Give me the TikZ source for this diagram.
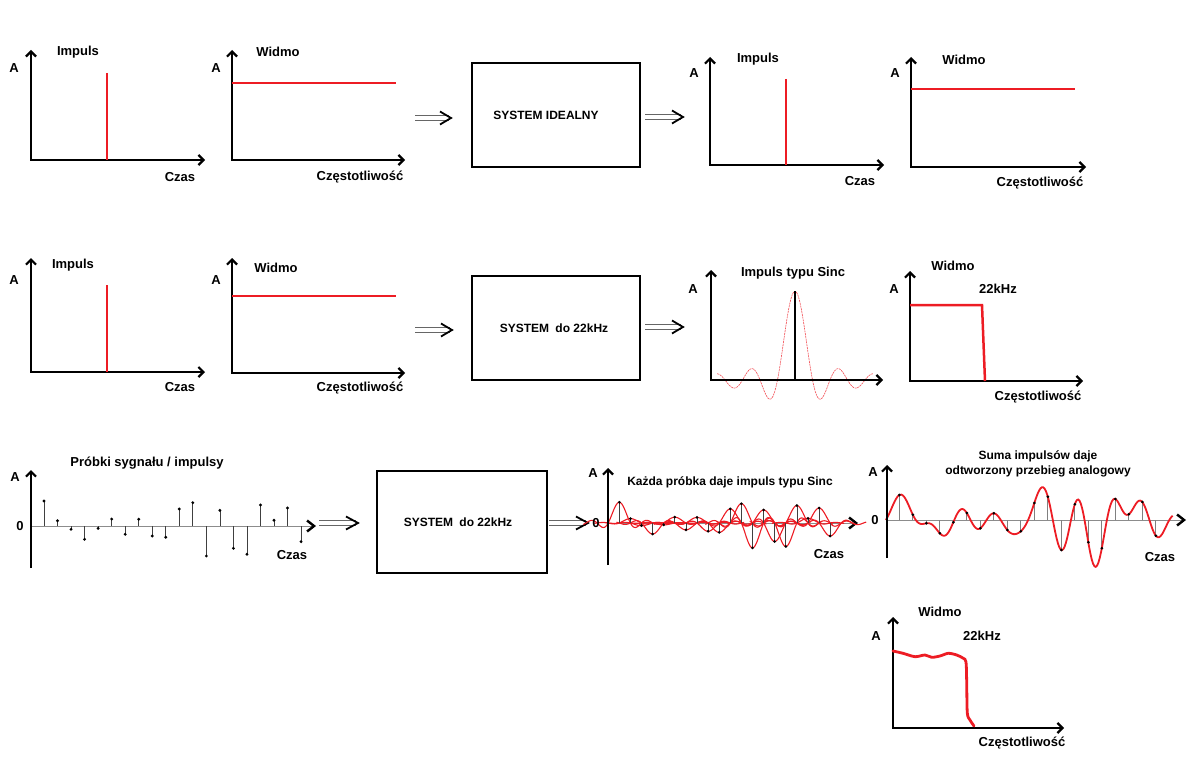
\documentclass[tikz,border=0pt]{standalone}
\usepackage{fontspec}
\setmainfont{Liberation Sans}
\usetikzlibrary{arrows.meta}
\definecolor{paintred}{RGB}{237,28,36}
\tikzset{
  lbl/.style={font=\fontsize{13}{15}\selectfont\bfseries, inner sep=0pt},
  slbl/.style={font=\fontsize{12}{15}\selectfont\bfseries, inner sep=0pt, align=center},
  axis/.style={line width=2.8pt, line join=miter, {Straight Barb[length=5pt,width=10pt,line width=2.2pt]}-{Straight Barb[length=5pt,width=10pt,line width=2.2pt]}},
  yaxis/.style={line width=2.8pt, -{Straight Barb[length=5pt,width=10pt,line width=2.2pt]}},
  taxis/.style={draw=black!45, line width=1pt, -{Straight Barb[length=7pt,width=11pt,line width=2.4pt,color=black]}},
  sig/.style={draw=paintred, line width=2.5pt},
  sysbox/.style={draw, line width=2.2pt, minimum width=168pt, minimum height=104pt},
  dblline/.style={draw=black!60, line width=0.9pt, double=white, double distance=3.5pt, shorten >=2pt},
  dblhead/.style={draw=black, line width=1.8pt},
  stem/.style={draw=black!75, line width=0.7pt},
  gstem/.style={draw=black!50, line width=0.9pt},
  sincln/.style={draw=paintred, line width=1.1pt},
  sincdash/.style={draw=paintred!80, line width=0.6pt, dash pattern=on 2pt off 0.8pt},
}
\begin{document}
\begin{tikzpicture}[x=1pt,y=-1pt,declare function={snc(\t)=sin(180*\t)/(pi*\t);}]
\useasboundingbox (0,0) rectangle (1195,768);

% row 1
\coordinate (o11) at (31,160); \coordinate (y11) at (31,50); \coordinate (x11) at (205,160);
\draw[axis] (y11) -- (o11) -- (x11);
\draw[sig] (107,73) -- (107,160);
\node[lbl] (a11) at (14,68) {A};
\node[lbl] (t11) at (78,52) {Impuls};
\node[lbl] (c11) at (180,177) {Czas};

\coordinate (o12) at (232,160); \coordinate (y12) at (232,50); \coordinate (x12) at (405,160);
\draw[axis] (y12) -- (o12) -- (x12);
\draw[sig] (232,83) -- (396,83);
\node[lbl] (a12) at (216,68) {A};
\node[lbl] (t12) at (278,52) {Widmo};
\node[lbl] (c12) at (360,177) {Częstotliwość};

\coordinate (ar1a) at (415,118); \coordinate (ar1b) at (451,118);
\draw[dblline] (ar1a) -- (ar1b);
\draw[dblhead] (ar1b) ++(-11,-6.5) -- (ar1b) -- ++(-11,6.5);
\node[sysbox] (sys1) at (556,115) {};
\node[slbl] (sys1t) at (546,115) {SYSTEM IDEALNY};
\coordinate (ar2a) at (645,117); \coordinate (ar2b) at (683,117);
\draw[dblline] (ar2a) -- (ar2b);
\draw[dblhead] (ar2b) ++(-11,-6.5) -- (ar2b) -- ++(-11,6.5);

\coordinate (o13) at (710,165); \coordinate (y13) at (710,57); \coordinate (x13) at (884,165);
\draw[axis] (y13) -- (o13) -- (x13);
\draw[sig] (786,79) -- (786,165);
\node[lbl] (a13) at (694,73) {A};
\node[lbl] (t13) at (758,59) {Impuls};
\node[lbl] (c13) at (860,181) {Czas};

\coordinate (o14) at (911,167); \coordinate (y14) at (911,57); \coordinate (x14) at (1086,167);
\draw[axis] (y14) -- (o14) -- (x14);
\draw[sig] (911,89) -- (1075,89);
\node[lbl] (a14) at (895,73) {A};
\node[lbl] (t14) at (964,60) {Widmo};
\node[lbl] (c14) at (1040,183) {Częstotliwość};

% row 2
\coordinate (o21) at (31,372); \coordinate (y21) at (31,258); \coordinate (x21) at (205,372);
\draw[axis] (y21) -- (o21) -- (x21);
\draw[sig] (107,285) -- (107,372);
\node[lbl] (a21) at (14,280) {A};
\node[lbl] (t21) at (73,265) {Impuls};
\node[lbl] (c21) at (180,387) {Czas};

\coordinate (o22) at (232,373); \coordinate (y22) at (232,258); \coordinate (x22) at (405,373);
\draw[axis] (y22) -- (o22) -- (x22);
\draw[sig] (232,296) -- (396,296);
\node[lbl] (a22) at (216,280) {A};
\node[lbl] (t22) at (276,268) {Widmo};
\node[lbl] (c22) at (360,388) {Częstotliwość};

\coordinate (ar3a) at (415,330); \coordinate (ar3b) at (452,330);
\draw[dblline] (ar3a) -- (ar3b);
\draw[dblhead] (ar3b) ++(-11,-6.5) -- (ar3b) -- ++(-11,6.5);
\node[sysbox] (sys2) at (556,328) {};
\node[slbl] (sys2t) at (554,328) {SYSTEM\hspace{3pt} do 22kHz};
\coordinate (ar4a) at (645,327); \coordinate (ar4b) at (683,327);
\draw[dblline] (ar4a) -- (ar4b);
\draw[dblhead] (ar4b) ++(-11,-6.5) -- (ar4b) -- ++(-11,6.5);

\coordinate (o23) at (711,380); \coordinate (y23) at (711,270); \coordinate (x23) at (883,380);
\draw[sincdash] plot[domain=-4.45:4.45, samples=90] ({795+17.5*\x},{380-89*snc(\x)});
\draw[axis] (y23) -- (o23) -- (x23);
\draw[line width=2.2pt] (795,291) -- (795,380);
\node[lbl] (a23) at (693,289) {A};
\node[lbl] (t23) at (793,273) {Impuls typu Sinc};

\coordinate (o24) at (910,381); \coordinate (y24) at (910,271); \coordinate (x24) at (1083,381);
\draw[axis] (y24) -- (o24) -- (x24);
\draw[sig] (910,305) -- (982,305) -- (985,381);
\node[lbl] (a24) at (894,289) {A};
\node[lbl] (t24) at (953,266) {Widmo};
\node[lbl] (k24) at (998,289) {22kHz};
\node[lbl] (c24) at (1038,397) {Częstotliwość};

% row 3
\coordinate (o31) at (31,526); \coordinate (y31) at (31,470); \coordinate (b31) at (31,568); \coordinate (x31) at (316,526);
\draw[taxis] (o31) -- (x31);
\draw[yaxis] (b31) -- (y31);
\foreach \v [count=\k] in {25,5.3,-3.3,-13.3,-2.3,7,-8.3,6.7,-10,-11.3,17,23.3,-30,15.7,-22.3,-28.3,21,5.7,18,-15.7}{
  \draw[stem] ({44+13.53*(\k-1)},526) -- ({44+13.53*(\k-1)},{526-(\v)});
  \fill ({44+13.53*(\k-1)},{526-(\v)}) circle (1.6);
}
\node[lbl] (a31) at (15,477) {A};
\node[lbl] (z31) at (20,526) {0};
\node[lbl] (t31) at (147,463) {Próbki sygnału / impulsy};
\node[lbl] (c31) at (292,555) {Czas};

\coordinate (ar5a) at (319,523); \coordinate (ar5b) at (358,523);
\draw[dblline] (ar5a) -- (ar5b);
\draw[dblhead] (ar5b) ++(-12,-6.5) -- (ar5b) -- ++(-12,6.5);
\node[sysbox, minimum width=170pt, minimum height=102pt] (sys3) at (462,522) {};
\node[slbl] (sys3t) at (458,522) {SYSTEM\hspace{3pt} do 22kHz};
\coordinate (ar6a) at (549,523); \coordinate (ar6b) at (588,523);
\draw[dblline] (ar6a) -- (ar6b);
\draw[dblhead] (ar6b) ++(-12,-6.5) -- (ar6b) -- ++(-12,6.5);

\coordinate (o32) at (608,523); \coordinate (y32) at (608,468); \coordinate (b32) at (608,565); \coordinate (x32) at (858,523);
\draw[taxis] (o32) -- (x32);
\foreach \v [count=\k] in {25,5.3,-3.3,-13.3,-2.3,7,-8.3,6.7,-10,-11.3,17,23.3,-30,15.7,-22.3,-28.3,21,5.7,18,-15.7}{
  \draw[sincln] plot[domain=-3.25:3.25, samples=66] ({619.3+11.1*(\k-1)+11.1*\x},{523-0.83*(\v)*snc(\x)});
}
\foreach \v [count=\k] in {25,5.3,-3.3,-13.3,-2.3,7,-8.3,6.7,-10,-11.3,17,23.3,-30,15.7,-22.3,-28.3,21,5.7,18,-15.7}{
  \draw[stem] ({619.3+11.1*(\k-1)},523) -- ({619.3+11.1*(\k-1)},{523-0.83*(\v)});
  \fill ({619.3+11.1*(\k-1)},{523-0.83*(\v)}) circle (1.5);
}
\draw[yaxis] (b32) -- (y32);
\node[lbl] (a32) at (593,473) {A};
\node[lbl] (z32) at (596,523) {0};
\node[slbl] (t32) at (730,482) {Każda próbka daje impuls typu Sinc};
\node[lbl] (c32) at (829,554) {Czas};

\coordinate (o33) at (886,520); \coordinate (y33) at (887,465); \coordinate (b33) at (887,558); \coordinate (x33) at (1186,520);
\draw[taxis] (o33) -- (x33);
\foreach \v [count=\k] in {25,5.3,-3.3,-13.3,-2.3,7,-8.3,6.7,-10,-11.3,17,23.3,-30,15.7,-22.3,-28.3,21,5.7,18,-15.7}{
  \draw[gstem] ({899.3+13.5*(\k-1)},520) -- ({899.3+13.5*(\k-1)},{520-(\v)});
}
\draw[sig, line width=1.8pt] (o33) -- plot[domain=0.05:21.25, samples=213] ({885.8+13.5*\x},{520-(25*snc(\x-1)+5.3*snc(\x-2)-3.3*snc(\x-3)-13.3*snc(\x-4)-2.3*snc(\x-5)+7*snc(\x-6)-8.3*snc(\x-7)+6.7*snc(\x-8)-10*snc(\x-9)-11.3*snc(\x-10)+17*snc(\x-11)+23.3*snc(\x-12)-30*snc(\x-13)+15.7*snc(\x-14)-22.3*snc(\x-15)-28.3*snc(\x-16)+21*snc(\x-17)+5.7*snc(\x-18)+18*snc(\x-19)-15.7*snc(\x-20))});
\foreach \v [count=\k] in {25,5.3,-3.3,-13.3,-2.3,7,-8.3,6.7,-10,-11.3,17,23.3,-30,15.7,-22.3,-28.3,21,5.7,18,-15.7}{
  \fill ({899.3+13.5*(\k-1)},{520-(\v)}) circle (1.5);
}
\draw[yaxis] (b33) -- (y33);
\node[lbl] (a33) at (873,472) {A};
\node[lbl] (z33) at (875,520) {0};
\node[slbl] (t33) at (1038,464) {Suma impulsów daje\\odtworzony przebieg analogowy};
\node[lbl] (c33) at (1160,557) {Czas};

% row 4
\coordinate (o43) at (893,728); \coordinate (y43) at (893,617); \coordinate (x43) at (1064,728);
\draw[axis] (y43) -- (o43) -- (x43);
\draw[sig, line width=2.8pt, line cap=round] plot[smooth, tension=0.5] coordinates {(893,651) (903,653.3) (915,656.7) (925,655) (931.7,657.3) (940,656) (948.3,653.3) (956.7,655) (963.3,658.3) (966,662) (966.7,682) (967.3,713) (970,720) (974,726)};
\node[lbl] (a43) at (876,636) {A};
\node[lbl] (t43) at (940,612) {Widmo};
\node[lbl] (k43) at (982,636) {22kHz};
\node[lbl] (c43) at (1022,743) {Częstotliwość};
\end{tikzpicture}
\end{document}
